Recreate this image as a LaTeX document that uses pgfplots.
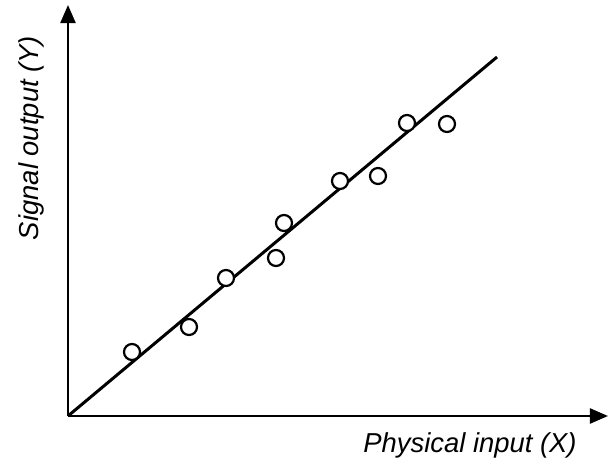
\documentclass[border=0pt]{standalone}
\usepackage{pgfplots}
\pgfplotsset{compat=1.18}
\usepackage{fontspec}
\setmainfont{Liberation Sans}
\usetikzlibrary{arrows.meta}
\begin{document}
\begin{tikzpicture}
\path[use as bounding box] (-68bp,-45bp) rectangle (542bp,416bp);
\begin{axis}[
  x=1bp, y=1bp,
  xmin=0, xmax=540, ymin=0, ymax=411,
  axis lines=left,
  axis line style={line width=2.2bp, -{Triangle[width=15bp,length=18bp]}},
  xtick=\empty, ytick=\empty,
  clip=false,
  anchor=origin, at={(0,0)},
]
\addplot[black, line width=3bp, no marks] coordinates {(0,0) (429,359)};
\addplot[only marks, mark=*, mark size=8bp, mark options={draw=black, fill=white, line width=2.2bp}] coordinates {
(64,64) (121,89) (158,138) (208,158) (216,193) (272,235) (310,240) (339,293) (379,292)
};
\node[rotate=90, font=\itshape\fontsize{27.5}{32}\selectfont] at (axis cs:-37,278) {Signal output (Y)};
\node[font=\itshape\fontsize{27.5}{32}\selectfont] at (axis cs:402,-29) {Physical input (X)};
\end{axis}
\end{tikzpicture}
\end{document}
